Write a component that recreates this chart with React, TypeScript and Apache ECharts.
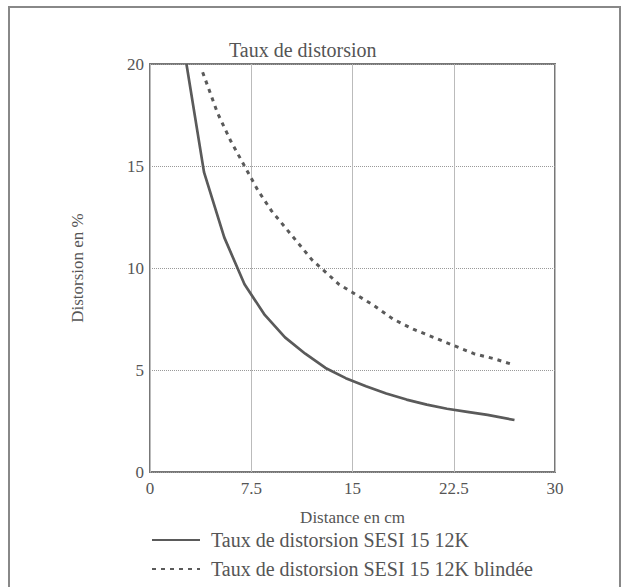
import React, { useEffect, useRef } from "react";
import * as echarts from "echarts";

const xTicks = [0, 7.5, 15, 22.5, 30];
const yTicks = [0, 5, 10, 15, 20];

const solidName = "Taux de distorsion SESI 15 12K";
const dottedName = "Taux de distorsion SESI 15 12K blindée";

const solidX = [2.7, 4, 5.5, 7, 8.5, 10, 11.5, 13, 14.5, 16, 17.5, 19, 20.5, 22, 23.5, 25, 27];
const solidY = [20, 14.7, 11.5, 9.2, 7.7, 6.6, 5.8, 5.1, 4.6, 4.2, 3.85, 3.55, 3.3, 3.1, 2.95, 2.8, 2.55];

const dottedX = [3.9, 5, 6, 7, 8, 9, 10, 11, 12, 13, 14, 15, 16.5, 18, 19.5, 21, 22.5, 24, 25.5, 26.7];
const dottedY = [19.6, 17.6, 16.2, 15.0, 13.8, 12.8, 12.0, 11.2, 10.4, 9.8, 9.2, 8.8, 8.2, 7.5, 7.0, 6.6, 6.2, 5.8, 5.55, 5.3];

const FONT = "Liberation Serif";
const TXT = "#555";

export default function App() {
  const ref = useRef<HTMLDivElement>(null);
  useEffect(() => {
    if (!ref.current) return;
    const chart = echarts.init(ref.current, undefined, { renderer: "svg" });
    chart.setOption({
      animation: false,
      backgroundColor: "#fff",
      textStyle: { fontFamily: FONT, color: TXT },
      title: {
        text: "Taux de distorsion",
        left: 224,
        top: 35,
        textStyle: { fontFamily: FONT, fontWeight: "normal", fontSize: 20, color: TXT },
      },
      graphic: [
        {
          type: "rect",
          shape: { x: 9, y: 7, width: 611, height: 600 },
          style: { fill: "none", stroke: "#888", lineWidth: 2 },
          silent: true,
        },
      ],
      grid: {
        left: 150,
        right: 66,
        top: 64,
        bottom: 115,
        show: true,
        borderColor: "#777",
        borderWidth: 2,
        backgroundColor: "transparent",
      },
      legend: {
        orient: "vertical",
        left: 146,
        top: 525,
        itemWidth: 48,
        itemHeight: 12,
        itemGap: 9,
        itemStyle: { opacity: 0 },
        textStyle: { fontFamily: FONT, fontSize: 20, color: TXT, padding: [0, 0, 0, 6] },
        data: [solidName, dottedName],
      },
      xAxis: {
        type: "value",
        min: 0,
        max: 30,
        interval: 7.5,
        name: "Distance en cm",
        nameLocation: "middle",
        nameGap: 37,
        nameTextStyle: { fontFamily: FONT, fontSize: 17, color: TXT },
        axisLine: { show: false },
        axisTick: { show: false },
        axisLabel: {
          fontFamily: FONT,
          fontSize: 17,
          color: TXT,
          margin: 8,
          customValues: xTicks,
          formatter: (v: number) => String(v),
        },
        splitLine: { show: true, lineStyle: { color: "#bbb", width: 1 } },
      },
      yAxis: {
        type: "value",
        min: 0,
        max: 20,
        interval: 5,
        name: "Distorsion en %",
        nameLocation: "middle",
        nameGap: 64,
        nameTextStyle: { fontFamily: FONT, fontSize: 17, color: TXT },
        axisLine: { show: false },
        axisTick: { show: false },
        axisLabel: {
          fontFamily: FONT,
          fontSize: 17,
          color: TXT,
          margin: 6,
          customValues: yTicks,
        },
        splitLine: { show: true, lineStyle: { color: "#999", width: 1, type: [1, 1] } },
      },
      series: [
        {
          name: solidName,
          type: "line",
          data: solidX.map((x, i) => [x, solidY[i]]),
          symbol: "none",
          lineStyle: { color: "#5a5a5a", width: 2.7, type: "solid" },
          itemStyle: { color: "#5a5a5a" },
          clip: true,
        },
        {
          name: dottedName,
          type: "line",
          data: dottedX.map((x, i) => [x, dottedY[i]]),
          symbol: "none",
          lineStyle: { color: "#5a5a5a", width: 3, type: [4, 5] },
          itemStyle: { color: "#5a5a5a" },
          clip: true,
        },
      ],
    });
    return () => chart.dispose();
  }, []);
  return (
    <div
      ref={ref}
      style={{ position: "fixed", left: 0, top: 0, width: 621, height: 587, background: "#fff" }}
    />
  );
}
